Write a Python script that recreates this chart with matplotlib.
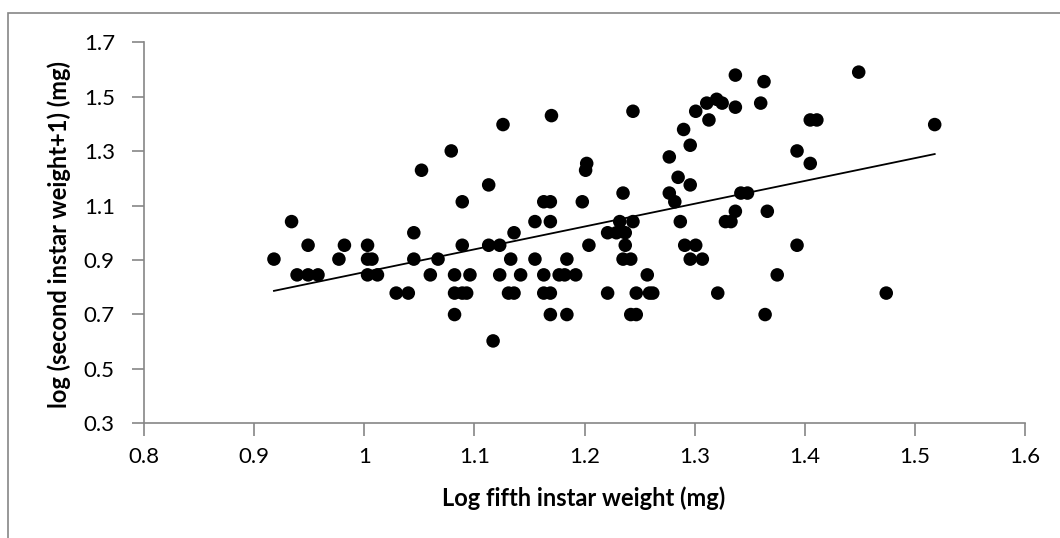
#!/usr/bin/env python3
"""Scatter of log fifth instar weight vs log(second instar weight + 1), with linear trend."""

import numpy as np
import matplotlib
matplotlib.use("Agg")
import matplotlib.pyplot as plt
from matplotlib.patches import Rectangle

# log fifth instar weight (mg)
fifth = [0.918, 0.934, 0.939, 0.949, 0.949, 0.958, 0.977, 0.982, 1.003, 1.003,
         1.007, 1.003, 1.012, 1.029, 1.040, 1.045, 1.045, 1.052, 1.060, 1.067,
         1.079, 1.082, 1.082, 1.082, 1.089, 1.089, 1.089, 1.093, 1.096, 1.113,
         1.113, 1.117, 1.123, 1.123, 1.126, 1.131, 1.133, 1.136, 1.136, 1.142,
         1.155, 1.155, 1.163, 1.163, 1.163, 1.169, 1.169, 1.169, 1.169, 1.170,
         1.177, 1.182, 1.184, 1.184, 1.192, 1.198, 1.201, 1.202, 1.204, 1.221,
         1.221, 1.229, 1.232, 1.235, 1.237, 1.237, 1.235, 1.242, 1.244, 1.244,
         1.242, 1.247, 1.247, 1.257, 1.259, 1.262, 1.277, 1.277, 1.282, 1.285,
         1.287, 1.290, 1.291, 1.296, 1.296, 1.296, 1.301, 1.301, 1.307, 1.311,
         1.313, 1.320, 1.321, 1.325, 1.328, 1.333, 1.337, 1.337, 1.337, 1.342,
         1.348, 1.360, 1.363, 1.364, 1.366, 1.375, 1.393, 1.393, 1.405, 1.405,
         1.411, 1.449, 1.474, 1.518]

# log (second instar weight + 1) (mg)
second = [0.903, 1.041, 0.845, 0.954, 0.845, 0.845, 0.903, 0.954, 0.954, 0.903,
          0.903, 0.845, 0.845, 0.778, 0.778, 1.000, 0.903, 1.230, 0.845, 0.903,
          1.301, 0.845, 0.778, 0.699, 1.114, 0.954, 0.778, 0.778, 0.845, 1.176,
          0.954, 0.602, 0.954, 0.845, 1.398, 0.778, 0.903, 0.778, 1.000, 0.845,
          1.041, 0.903, 1.114, 0.845, 0.778, 1.114, 1.041, 0.778, 0.699, 1.431,
          0.845, 0.845, 0.903, 0.699, 0.845, 1.114, 1.230, 1.255, 0.954, 0.778,
          1.000, 1.000, 1.041, 1.146, 1.000, 0.954, 0.903, 0.903, 1.041, 1.447,
          0.699, 0.699, 0.778, 0.845, 0.778, 0.778, 1.279, 1.146, 1.114, 1.204,
          1.041, 1.380, 0.954, 1.322, 1.176, 0.903, 1.447, 0.954, 0.903, 1.477,
          1.415, 1.491, 0.778, 1.477, 1.041, 1.041, 1.580, 1.462, 1.079, 1.146,
          1.146, 1.477, 1.556, 0.699, 1.079, 0.845, 1.301, 0.954, 1.415, 1.255,
          1.415, 1.591, 0.778, 1.398]

x = np.array(fifth)
y = np.array(second)

plt.rcParams["font.family"] = ["Lato", "DejaVu Sans"]

W, H = 1060, 538
fig = plt.figure(figsize=(W / 100, H / 100), dpi=100)
ax = fig.add_axes([144 / W, 1 - 423 / H, 881 / W, 380.5 / H])

ax.scatter(x, y, s=95, color="black", edgecolors="none", zorder=3)

slope, icpt = np.polyfit(x, y, 1)
xs = np.array([x.min(), x.max()])
ax.plot(xs, slope * xs + icpt, color="black", lw=1.3, zorder=2)

ax.set_xlim(0.8, 1.6)
ax.set_ylim(0.3, 1.7)
ax.set_xticks(np.arange(0.8, 1.61, 0.1))
ax.set_xticklabels(["0.8", "0.9", "1", "1.1", "1.2", "1.3", "1.4", "1.5", "1.6"])
ax.set_yticks(np.arange(0.3, 1.71, 0.2))
ax.set_yticklabels(["0.3", "0.5", "0.7", "0.9", "1.1", "1.3", "1.5", "1.7"])

gray = "#868686"
for side in ("top", "right"):
    ax.spines[side].set_visible(False)
for side in ("left", "bottom"):
    ax.spines[side].set_color(gray)
    ax.spines[side].set_linewidth(1.2)
ax.tick_params(direction="out", length=9, width=1.2, color=gray, labelsize=16)
ax.tick_params(axis="x", pad=8)
ax.tick_params(axis="y", pad=12)

fig.text(584 / W, 1 - 498 / H, "Log fifth instar weight (mg)", fontsize=17,
         fontweight="bold", ha="center", va="center")
fig.text(59 / W, 1 - 234 / H, "log (second instar weight+1) (mg)", fontsize=17,
         fontweight="bold", ha="center", va="center", rotation=90)

# chart-area border (open on the right and bottom, as in the source image)
fig.patches.append(Rectangle((8 / W, -0.1), 1.2, (H - 13) / H + 0.1,
                             transform=fig.transFigure, fill=False,
                             edgecolor=gray, lw=1.2))

fig.savefig("out.png", dpi=100)
